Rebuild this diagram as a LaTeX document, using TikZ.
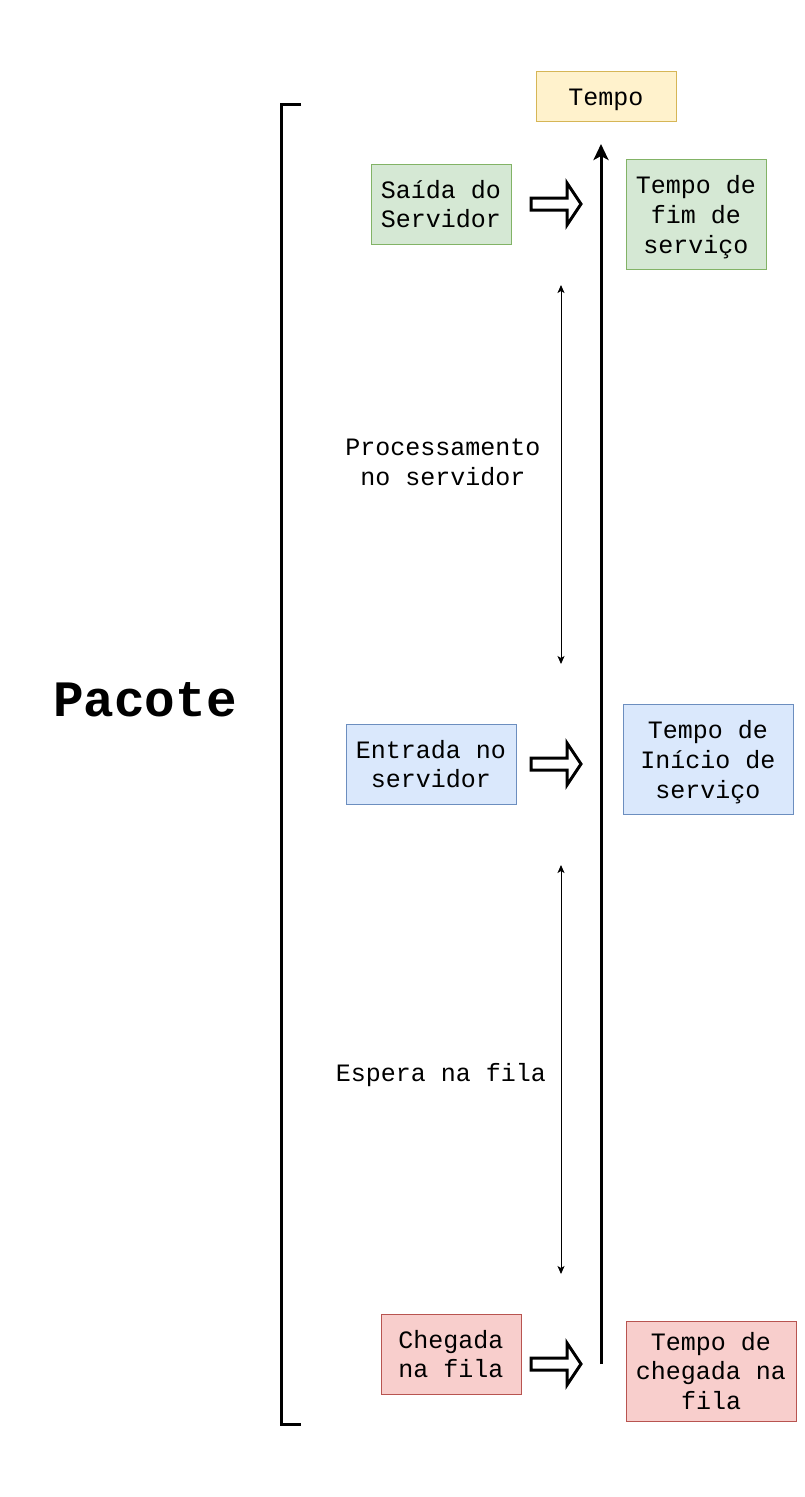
\documentclass[tikz,border=0pt]{standalone}
\usepackage{fontspec}
\setmainfont{Liberation Mono}
\usetikzlibrary{arrows.meta}
\definecolor{yfill}{HTML}{FFF2CC}\definecolor{ydraw}{HTML}{D6B656}
\definecolor{gfill}{HTML}{D5E8D4}\definecolor{gdraw}{HTML}{82B366}
\definecolor{bfill}{HTML}{DAE8FC}\definecolor{bdraw}{HTML}{6C8EBF}
\definecolor{rfill}{HTML}{F8CECC}\definecolor{rdraw}{HTML}{B85450}
\begin{document}
\begin{tikzpicture}[x=1pt,y=-1pt,
  box/.style={rectangle,inner sep=0pt,align=center,line width=0.8pt,
    font=\fontsize{25}{29.7}\selectfont},
  ybox/.style={box,fill=yfill,draw=ydraw},
  gbox/.style={box,fill=gfill,draw=gdraw},
  bbox/.style={box,fill=bfill,draw=bdraw},
  rbox/.style={box,fill=rfill,draw=rdraw},
  lbl/.style={inner sep=0pt,align=center,font=\fontsize{25}{29.7}\selectfont},
  axis/.style={line width=3pt,-{Stealth[length=16pt,width=15pt,inset=4pt]}},
  span/.style={line width=1pt,{Stealth[length=8pt,width=7pt,inset=2pt]}-{Stealth[length=8pt,width=7pt,inset=2pt]}},
  hollow/.style={draw=black,fill=white,line width=3pt,line join=miter}
]
\useasboundingbox (0,0) rectangle (804,1497);

\node[ybox,minimum width=140pt,minimum height=50pt] (tempo) at (606,96) {};
\node[lbl] (tempot) at ([yshift=-3.5pt]tempo.center) {Tempo};
\node[gbox,minimum width=140pt,minimum height=80pt] (saida) at (441,204) {Saída do\\Servidor};
\node[gbox,minimum width=140pt,minimum height=110pt] (fim) at (696,214) {};
\node[lbl] (fimt) at ([yshift=-3pt]fim.center) {Tempo de\\fim de\\serviço};
\node[bbox,minimum width=170pt,minimum height=80pt] (entrada) at (431,764) {Entrada no\\servidor};
\node[bbox,minimum width=170pt,minimum height=110pt] (inicio) at (708,759) {};
\node[lbl] (iniciot) at ([yshift=-3pt]inicio.center) {Tempo de\\Início de\\serviço};
\node[rbox,minimum width=140pt,minimum height=80pt] (chegada) at (451,1354) {Chegada\\na fila};
\node[rbox,minimum width=170pt,minimum height=100pt] (tchegada) at (711,1371) {Tempo de\\chegada na\\fila};

\node[lbl] (proc) at (443,462) {Processamento\\no servidor};
\node[lbl] (espera) at (441,1075) {Espera na fila};
\node[inner sep=0pt,font=\fontsize{51}{60}\selectfont\bfseries] (pacote) at (145,700) {Pacote};

% time axis
\coordinate (axb) at (601,1364);
\coordinate (axt) at (601,144);
\draw[axis] (axb) -- (axt);

% spans
\coordinate (p1) at (561,285); \coordinate (p2) at (561,664);
\coordinate (e1) at (561,865); \coordinate (e2) at (561,1274);
\draw[span] (p1) -- (p2);
\draw[span] (e1) -- (e2);

% hollow arrows
\foreach \yy in {204,764,1364}{
  \draw[hollow] (531,\yy-6) -- (567,\yy-6) -- (567,\yy-21) -- (581,\yy) -- (567,\yy+21) -- (567,\yy+6) -- (531,\yy+6) -- cycle;
}

% bracket
\draw[line width=3pt] (301,104) -- (281,104) -- (281,1424) -- (301,1424);
\end{tikzpicture}
\end{document}
